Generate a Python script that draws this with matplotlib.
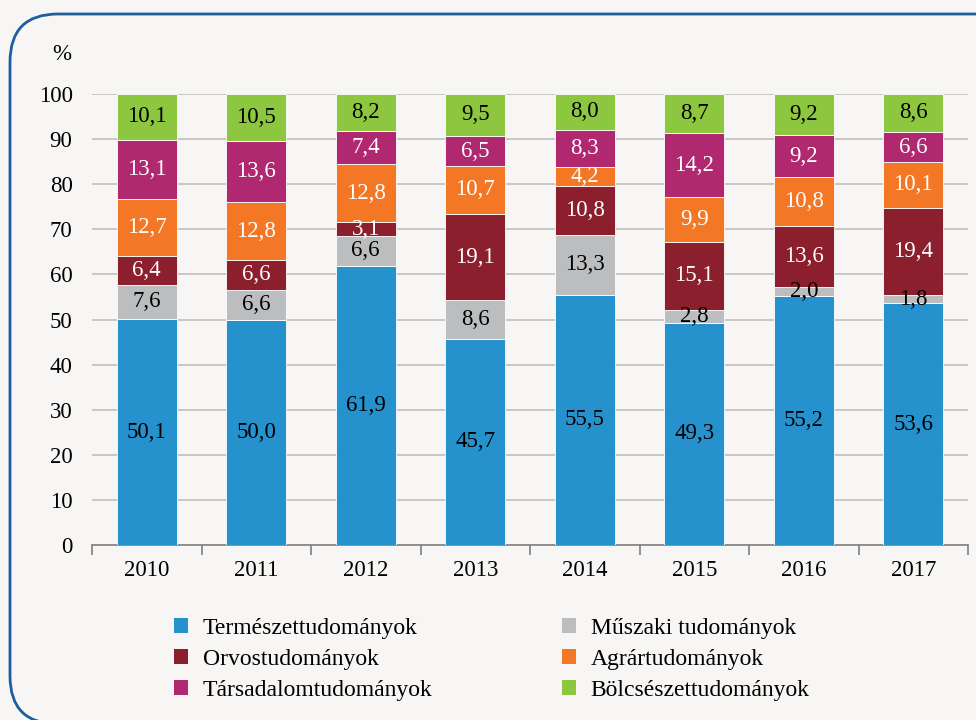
import numpy as np
import matplotlib
matplotlib.use("Agg")
import matplotlib.pyplot as plt
from matplotlib.patches import FancyBboxPatch, Patch
from matplotlib.transforms import IdentityTransform

years = ["2010", "2011", "2012", "2013", "2014", "2015", "2016", "2017"]
termeszet = [50.1, 50.0, 61.9, 45.7, 55.5, 49.3, 55.2, 53.6]
muszaki = [7.6, 6.6, 6.6, 8.6, 13.3, 2.8, 2.0, 1.8]
orvos = [6.4, 6.6, 3.1, 19.1, 10.8, 15.1, 13.6, 19.4]
agrar = [12.7, 12.8, 12.8, 10.7, 4.2, 9.9, 10.8, 10.1]
tarsadalom = [13.1, 13.6, 7.4, 6.5, 8.3, 14.2, 9.2, 6.6]
bolcsesz = [10.1, 10.5, 8.2, 9.5, 8.0, 8.7, 9.2, 8.6]

series = [
    ("Természettudományok", termeszet, "#2591cd", "black"),
    ("Műszaki tudományok", muszaki, "#bbbdbf", "black"),
    ("Orvostudományok", orvos, "#8b1f2d", "white"),
    ("Agrártudományok", agrar, "#f47726", "white"),
    ("Társadalomtudományok", tarsadalom, "#b0286f", "white"),
    ("Bölcsészettudományok", bolcsesz, "#8dc63f", "black"),
]

plt.rcParams['font.family'] = ['Liberation Serif', 'DejaVu Serif']
bg = "#f7f6f5"
fig = plt.figure(figsize=(9.76, 7.2), dpi=100, facecolor=bg)

# rounded frame, drawn in pixels (runs off the right and bottom edge)
frame = FancyBboxPatch((10, -4), 1100, 710,
                       boxstyle="round,pad=0,rounding_size=48",
                       transform=IdentityTransform(), fill=False,
                       edgecolor="#1d5e9e", linewidth=2, clip_on=False)
fig.patches.append(frame)

ax = fig.add_axes([92 / 976, 1 - 545 / 720, (968 - 92) / 976, (545 - 94) / 720])
ax.set_facecolor(bg)
x = np.arange(len(years))
bottom = np.zeros(len(years))
for name, vals, col, tcol in series:
    vals = np.array(vals)
    ax.bar(x, vals, 0.55, bottom=bottom, color=col, edgecolor="white", linewidth=0.6, zorder=3)
    for xi, b, v in zip(x, bottom, vals):
        ax.text(xi, b + v / 2, f"{v:.1f}".replace(".", ","), ha="center", va="center",
                color=tcol, fontsize=16.5, zorder=4)
    bottom += vals

ax.set_xlim(-0.5, len(years) - 0.5)
ax.set_ylim(0, 100)
ax.set_yticks(range(0, 101, 10))
ax.yaxis.grid(True, color="#bfbfbf", linewidth=1.2, zorder=0)
ax.tick_params(axis="y", length=0, labelsize=16.5, pad=14)
ax.set_xticks(x)
ax.set_xticklabels(years)
ax.set_xticks(np.arange(-0.5, len(years)), minor=True)
ax.tick_params(axis="x", which="major", length=0, labelsize=16.5, pad=11)
ax.tick_params(axis="x", which="minor", length=7, color="#808080", width=1.2)
for s in ["top", "right", "left"]:
    ax.spines[s].set_visible(False)
ax.spines["bottom"].set_color("#808080")
ax.spines["bottom"].set_linewidth(1.2)

fig.text(62 / 976, 1 - 55 / 720, "%", fontsize=16.5, ha="center", va="center")

handles = [Patch(facecolor=s[2]) for s in series]
labels = [s[0] for s in series]
order = [0, 2, 4, 1, 3, 5]
fig.legend([handles[i] for i in order], [labels[i] for i in order], ncol=2,
           loc="upper left", bbox_to_anchor=(153 / 976, 1 - 597 / 720),
           frameon=False, fontsize=17, handlelength=0.6, handleheight=0.6,
           handletextpad=0.6, columnspacing=5.5, labelspacing=0.42)

fig.savefig("out.png", dpi=100, facecolor=bg)
